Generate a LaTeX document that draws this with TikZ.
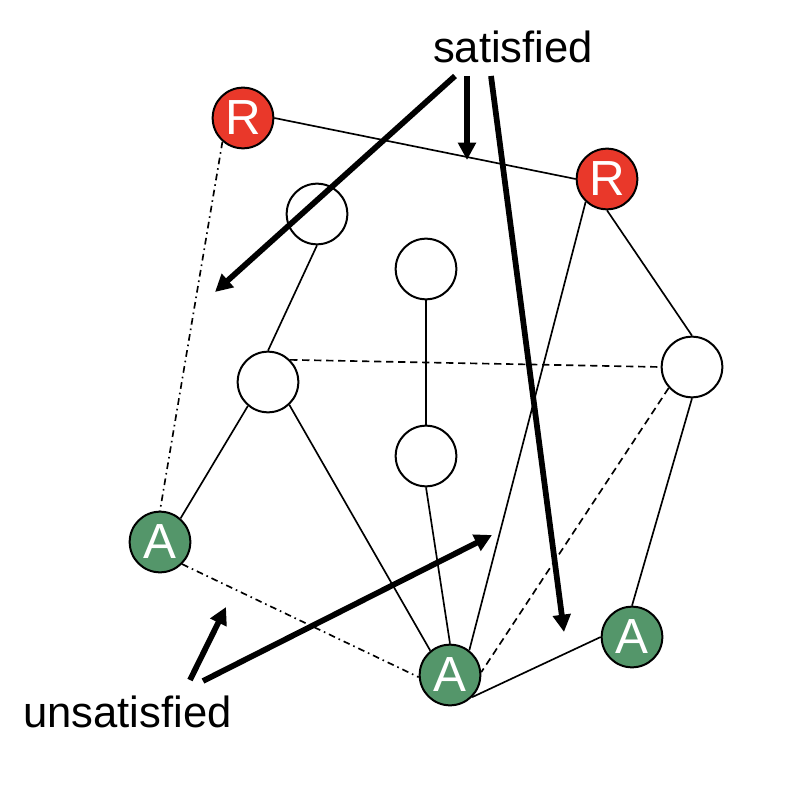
\documentclass[tikz,border=0pt]{standalone}
\usepackage{fontspec}
\setmainfont{Liberation Sans}
\usetikzlibrary{arrows.meta}
\definecolor{rnode}{RGB}{233,56,42}
\definecolor{anode}{RGB}{84,150,106}
\tikzset{
  vtx/.style={circle,draw=black,line width=1.5pt,minimum size=45.5pt,inner sep=0pt,
    font=\fontsize{37}{37}\selectfont,text=white},
  rvtx/.style={vtx,fill=rnode},
  avtx/.style={vtx,fill=anode},
  evtx/.style={vtx,fill=white},
  edge/.style={line width=1.25pt},
  dedge/.style={edge,dash pattern=on 5.5pt off 3.5pt},
  ddedge/.style={edge,dash pattern=on 5pt off 3pt on 1.2pt off 3pt},
  bigarrow/.style={line width=4.3pt,-{Triangle[length=13pt,width=13pt]}},
  lbl/.style={font=\fontsize{32.7}{36}\selectfont,anchor=base,inner sep=0pt}
}
\begin{document}
\begin{tikzpicture}[x=0.75pt,y=-0.75pt]
\useasboundingbox (0,0) rectangle (787,787);
\node[rvtx] (R1) at (243,118) {R};
\node[rvtx] (R2) at (607,179) {R};
\node[evtx] (N1) at (317,214) {};
\node[evtx] (N2) at (426,269) {};
\node[evtx] (N3) at (268,382) {};
\node[evtx] (N4) at (692,367) {};
\node[evtx] (N5) at (426,456) {};
\node[avtx] (A1) at (160,542) {A};
\node[avtx] (A2) at (450,675) {A};
\node[avtx] (A3) at (632,637) {A};

\draw[edge] (R1.east) -- (R2.west);
\draw[ddedge] (R1.229) -- (A1.north);
\draw[edge] (N1.south) -- (N3.north);
\draw[edge] (N2.south) -- (N5.north);
\draw[dedge] (N3.45) -- (N4.west);
\draw[edge] (N3.230) -- (A1.49);
\draw[edge] (N3.-47) -- (A2.129);
\draw[edge] (N5.south) -- (A2.north);
\draw[edge] (R2.227) -- (A2.52);
\draw[edge] (R2.south) -- (N4.north);
\draw[edge] (N4.south) -- (A3.north);
\draw[dedge] (N4.222) -- (A2.5);
\draw[ddedge] (A1.-45) -- (A2.184);
\draw[edge] (A2.-45) -- (A3.180);

% labels
\node[lbl] (sat) at (513,63) {satisfied};
\node[lbl] (unsat) at (127.5,727) {unsatisfied};

% arrows
\coordinate (s1) at (455,76);
\coordinate (t1) at (215,292);
\coordinate (s2) at (467,76);
\coordinate (t2) at (467,160);
\coordinate (s3) at (491,76);
\coordinate (t3) at (564,632);
\coordinate (s4) at (190,680);
\coordinate (t4) at (226,607);
\coordinate (s5) at (203,681);
\coordinate (t5) at (492,535);
\draw[bigarrow] (s1) -- (t1);
\draw[bigarrow] (s2) -- (t2);
\draw[bigarrow] (s3) -- (t3);
\draw[bigarrow] (s4) -- (t4);
\draw[bigarrow] (s5) -- (t5);
\end{tikzpicture}
\end{document}
